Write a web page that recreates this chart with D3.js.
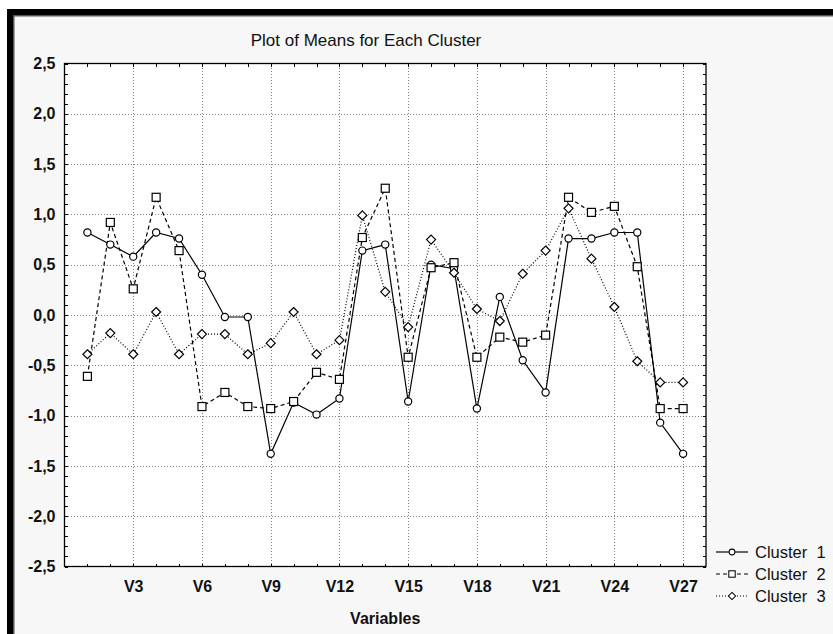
<!DOCTYPE html>
<html>
<head>
<meta charset="utf-8">
<script src="https://cdn.jsdelivr.net/npm/d3@7"></script>
<style>
  body { margin: 0; background: #ffffff; }
  svg { display: block; font-family: "Liberation Sans", Arial, sans-serif; }
  .grid line { stroke: #808080; stroke-dasharray: 1,2; shape-rendering: crispEdges; }
  .grid path { display: none; }
  .ticks path { display: none; }
  .ticks line { stroke: #000; shape-rendering: crispEdges; }
  .lbl path, .lbl line { display: none; }
  .lbl text { font-size: 16px; font-weight: bold; fill: #111; }
</style>
</head>
<body>
<svg id="chart"></svg>
<script>
// values
var variables = ['V1','V2','V3','V4','V5','V6','V7','V8','V9','V10','V11','V12','V13','V14',
                 'V15','V16','V17','V18','V19','V20','V21','V22','V23','V24','V25','V26','V27'];

var cluster1 = [ 0.82, 0.70, 0.58, 0.82, 0.76, 0.40,-0.02,-0.02,-1.38,-0.87,-0.99,-0.83, 0.64, 0.70,
                -0.86, 0.50, 0.46,-0.93, 0.18,-0.45,-0.77, 0.76, 0.76, 0.82, 0.82,-1.07,-1.38];
var cluster2 = [-0.61, 0.92, 0.26, 1.17, 0.64,-0.91,-0.77,-0.91,-0.93,-0.86,-0.57,-0.64, 0.77, 1.26,
                -0.42, 0.47, 0.52,-0.42,-0.22,-0.27,-0.20, 1.17, 1.02, 1.08, 0.48,-0.93,-0.93];
var cluster3 = [-0.39,-0.18,-0.39, 0.03,-0.39,-0.19,-0.19,-0.39,-0.28, 0.03,-0.39,-0.25, 0.99, 0.23,
                -0.12, 0.75, 0.42, 0.06,-0.06, 0.41, 0.64, 1.06, 0.56, 0.08,-0.46,-0.67,-0.67];

var seriesNames = ['Cluster  1', 'Cluster  2', 'Cluster  3'];
var xTickLabels = ['V3','V6','V9','V12','V15','V18','V21','V24','V27'];
var yTicks = [-2.5,-2.0,-1.5,-1.0,-0.5,0.0,0.5,1.0,1.5,2.0,2.5];

var svgWidth = 833, svgHeight = 634;
var margin = { top: 63.5, left: 64.5, right: 127, bottom: 67.5 };
var innerWidth  = svgWidth  - margin.left - margin.right;
var innerHeight = svgHeight - margin.top  - margin.bottom;

var fmt = d3.formatLocale({ decimal: ",", thousands: ".", grouping: [3], currency: ["", ""], minus: "-" }).format(".1f");

var svg = d3.select('#chart').attr('width', svgWidth).attr('height', svgHeight);

// window frame
svg.append('rect').attr('x', 7).attr('y', 9).attr('width', svgWidth - 7).attr('height', svgHeight - 9).attr('fill', '#f7f7f7');
svg.append('rect').attr('x', 7).attr('y', 9).attr('width', svgWidth - 7).attr('height', 6).attr('fill', '#000');
svg.append('rect').attr('x', 7).attr('y', 15).attr('width', svgWidth - 7).attr('height', 1.5).attr('fill', '#555');
svg.append('rect').attr('x', 7).attr('y', 9).attr('width', 6).attr('height', svgHeight - 9).attr('fill', '#000');
svg.append('rect').attr('x', 13).attr('y', 15).attr('width', 1.5).attr('height', svgHeight - 15).attr('fill', '#555');

var xScale = d3.scaleLinear().domain([0, 28]).range([0, innerWidth]);
var yScale = d3.scaleLinear().domain([-2.5, 2.5]).range([innerHeight, 0]);

var g = svg.append('g').attr('transform', `translate(${margin.left},${margin.top})`);

g.append('rect').attr('width', innerWidth).attr('height', innerHeight).attr('fill', '#fff');

var xMajor = xTickLabels.map(function (l) { return variables.indexOf(l) + 1; });
var xAll = variables.map(function (d, i) { return i + 1; });
var yMinor = d3.range(-25, 26).map(function (d) { return d / 10; });

// dotted grid
g.append('g').attr('class', 'grid')
  .call(d3.axisLeft(yScale).tickValues(yTicks.slice(1, -1)).tickSize(-innerWidth).tickFormat(''));
g.append('g').attr('class', 'grid')
  .attr('transform', `translate(0,${innerHeight})`)
  .call(d3.axisBottom(xScale).tickValues(xMajor).tickSize(-innerHeight).tickFormat(''));

// inward tick marks on all four sides
g.append('g').attr('class', 'ticks').call(d3.axisLeft(yScale).tickValues(yMinor).tickSize(-3).tickFormat(''));
g.append('g').attr('class', 'ticks').attr('transform', `translate(${innerWidth},0)`)
  .call(d3.axisRight(yScale).tickValues(yMinor).tickSize(-3).tickFormat(''));
g.append('g').attr('class', 'ticks').call(d3.axisTop(xScale).tickValues(xAll).tickSize(-3).tickFormat(''));
g.append('g').attr('class', 'ticks').attr('transform', `translate(0,${innerHeight})`)
  .call(d3.axisBottom(xScale).tickValues(xAll).tickSize(-3).tickFormat(''));

g.append('rect').attr('width', innerWidth).attr('height', innerHeight)
  .attr('fill', 'none').attr('stroke', '#000').attr('stroke-width', 1.3);

// labels
g.append('g').attr('class', 'lbl')
  .call(d3.axisLeft(yScale).tickValues(yTicks).tickSize(0).tickPadding(9).tickFormat(fmt));
g.append('g').attr('class', 'lbl').attr('transform', `translate(0,${innerHeight})`)
  .call(d3.axisBottom(xScale).tickValues(xMajor).tickSize(0).tickPadding(14)
        .tickFormat(function (d) { return variables[d - 1]; }));

svg.append('text').attr('x', 366).attr('y', 46).attr('text-anchor', 'middle')
  .attr('font-size', 17).attr('fill', '#111').text('Plot of Means for Each Cluster');
svg.append('text').attr('x', margin.left + innerWidth / 2).attr('y', 624).attr('text-anchor', 'middle')
  .attr('font-size', 16).attr('font-weight', 'bold').attr('fill', '#111').text('Variables');

// series
var series = [
  { name: seriesNames[0], values: cluster1, dash: null,  shape: 'circle' },
  { name: seriesNames[1], values: cluster2, dash: '4,3', shape: 'square' },
  { name: seriesNames[2], values: cluster3, dash: '1,2', shape: 'diamond' }
];

function marker(sel, shape) {
  if (shape === 'circle') {
    sel.append('circle').attr('r', 3.6);
  } else if (shape === 'square') {
    sel.append('rect').attr('x', -4).attr('y', -4).attr('width', 8).attr('height', 8);
  } else {
    sel.append('path').attr('d', 'M0,-4.5L4.5,0L0,4.5L-4.5,0Z');
  }
}

var line = d3.line().x(function (d, i) { return xScale(i + 1); }).y(function (d) { return yScale(d); });

series.forEach(function (s) {
  g.append('path').datum(s.values)
    .attr('d', line).attr('fill', 'none').attr('stroke', '#000').attr('stroke-width', 1.2)
    .attr('stroke-dasharray', s.dash);
});
series.forEach(function (s) {
  g.selectAll(null).data(s.values).enter().append('g')
    .attr('transform', function (d, i) { return `translate(${xScale(i + 1)},${yScale(d)})`; })
    .attr('fill', '#fff').attr('stroke', '#000').attr('stroke-width', 1.2)
    .each(function () { marker(d3.select(this), s.shape); });
});

// legend
var leg = svg.append('g').attr('transform', 'translate(716,552)');
series.forEach(function (s, i) {
  var row = leg.append('g').attr('transform', `translate(0,${i * 22})`);
  row.append('line').attr('x1', 0).attr('x2', 32).attr('stroke', '#000').attr('stroke-width', 1.2)
    .attr('stroke-dasharray', s.dash);
  var m = row.append('g').attr('transform', 'translate(16,0) scale(0.8)')
    .attr('fill', '#fff').attr('stroke', '#000').attr('stroke-width', 1.3);
  marker(m, s.shape);
  row.append('text').attr('x', 39).attr('y', 6).attr('font-size', 16.5).attr('fill', '#111')
    .style('white-space', 'pre').text(s.name);
});
</script>
</body>
</html>
